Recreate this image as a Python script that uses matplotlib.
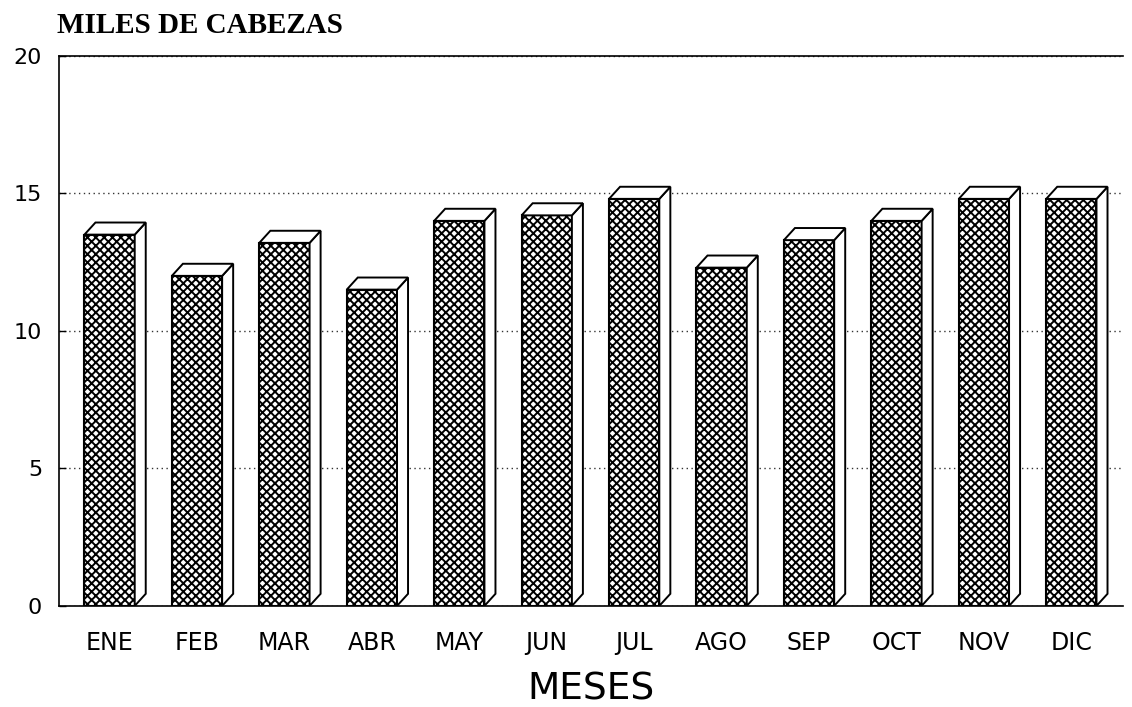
import matplotlib.pyplot as plt
from matplotlib.patches import Polygon

meses = ['ENE', 'FEB', 'MAR', 'ABR', 'MAY', 'JUN', 'JUL', 'AGO', 'SEP', 'OCT', 'NOV', 'DIC']
cabezas = [13.5, 12.0, 13.2, 11.5, 14.0, 14.2, 14.8, 12.3, 13.3, 14.0, 14.8, 14.8]

plt.rcParams['hatch.linewidth'] = 1.4
plt.rcParams['font.family'] = ['DejaVu Sans']

fig = plt.figure(figsize=(11.32, 7.07), dpi=100)
ax = fig.add_axes([0.052, 0.143, 0.94, 0.778])

x = list(range(len(meses)))
w = 0.575   # ancho de la cara frontal
dx = 0.126  # profundidad (x)
dy = 0.44   # profundidad (y)

ax.bar(x, cabezas, width=w, color='white', edgecolor='black', hatch='xxxx',
       linewidth=1.5, zorder=3)

# caras lateral y superior (efecto 3D)
for xi, v in zip(x, cabezas):
    r = xi + w / 2
    l = xi - w / 2
    side = Polygon([(r, 0), (r + dx, dy), (r + dx, v + dy), (r, v)], closed=True,
                   facecolor='white', edgecolor='black', linewidth=1.4, zorder=3)
    top = Polygon([(l, v), (l + dx, v + dy), (r + dx, v + dy), (r, v)], closed=True,
                  facecolor='white', edgecolor='black', linewidth=1.4, zorder=3)
    ax.add_patch(side)
    ax.add_patch(top)

ax.set_xlim(-0.58, 11.59)
ax.set_ylim(0, 20)
ax.set_yticks([0, 5, 10, 15, 20])
ax.set_xticks(x)
ax.set_xticklabels(meses)

ax.yaxis.grid(True, linestyle=(0, (1, 2.5)), color='#333333', linewidth=1.0, zorder=1)
ax.tick_params(axis='y', direction='in', length=5, width=1, labelsize=16, pad=12)
ax.tick_params(axis='x', length=0, labelsize=17, pad=18)

ax.spines['right'].set_visible(False)
for s in ['left', 'top', 'bottom']:
    ax.spines[s].set_linewidth(1.2)

ax.set_xlabel('MESES', fontsize=27, labelpad=12)
fig.text(0.05, 0.945, 'MILES DE CABEZAS', fontsize=21, fontweight='bold',
         family='Liberation Serif', ha='left', va='bottom')

fig.savefig('out.png', dpi=100, facecolor='white')
